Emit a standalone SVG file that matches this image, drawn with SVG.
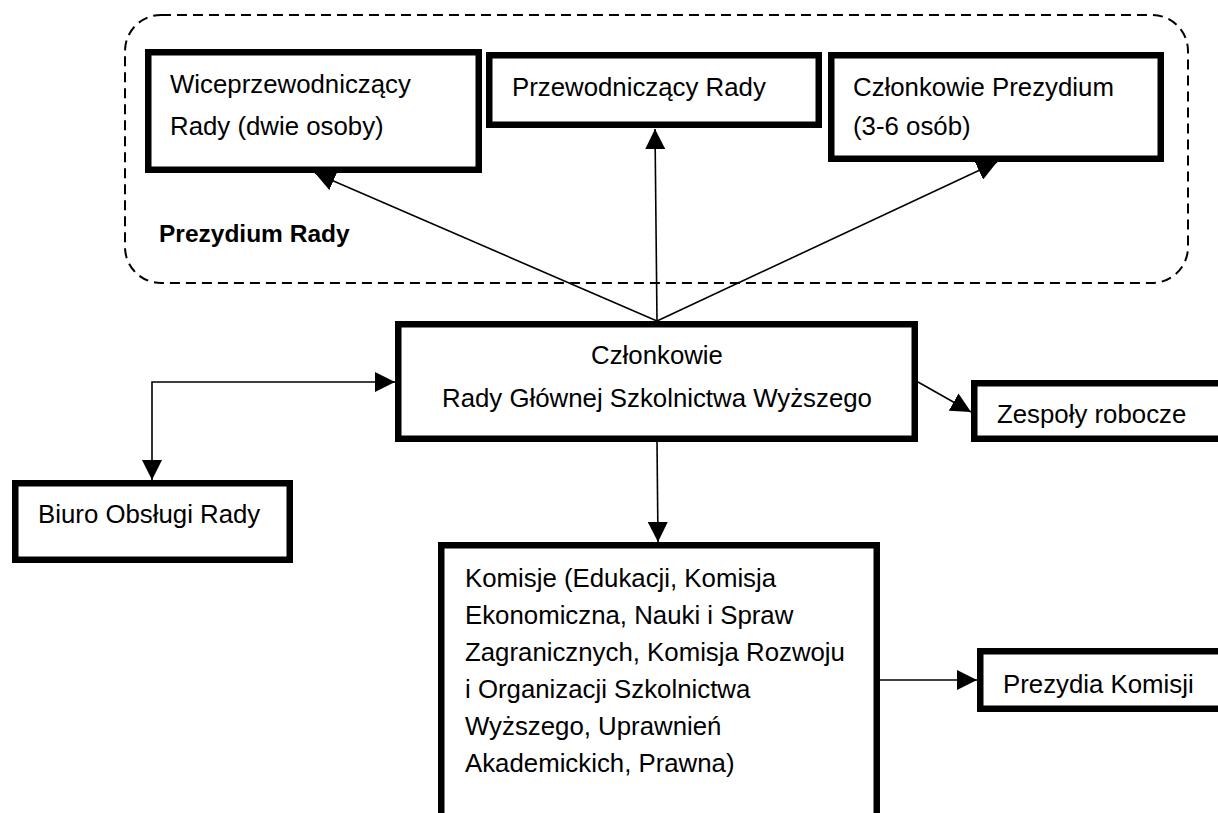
<svg xmlns="http://www.w3.org/2000/svg" width="1218" height="813" viewBox="0 0 1218 813">
<style>
.box{fill:#fff;stroke:#000;stroke-width:6.5}
.t{font-family:"Liberation Sans",Arial,sans-serif;font-size:25.8px;fill:#000}
.b{font-family:"Liberation Sans",Arial,sans-serif;font-size:24.5px;font-weight:bold;fill:#000}
.c{fill:none;stroke:#000;stroke-width:1.6}
.dash{fill:none;stroke:#000;stroke-width:2;stroke-dasharray:10 6}
</style>
<defs>
<marker id="ah" markerUnits="userSpaceOnUse" markerWidth="20" markerHeight="20" viewBox="0 0 20 20" refX="20" refY="10" orient="auto-start-reverse">
<path d="M0,0 L20,10 L0,20 z" fill="#000"/>
</marker>
</defs>
<rect id="prezydium-group" class="dash" x="125" y="15" width="1063" height="268" rx="36" ry="36"/>
<g id="connectors">
<line class="c" x1="657" y1="321" x2="315" y2="173" marker-end="url(#ah)"/>
<line class="c" x1="657" y1="321" x2="655" y2="129" marker-end="url(#ah)"/>
<line class="c" x1="657" y1="321" x2="997" y2="162" marker-end="url(#ah)"/>
<path class="c" d="M152,480 V382 H395" marker-start="url(#ah)" marker-end="url(#ah)"/>
<line class="c" x1="918" y1="382" x2="971" y2="412" marker-end="url(#ah)"/>
<line class="c" x1="657" y1="442" x2="658" y2="542" marker-end="url(#ah)"/>
<line class="c" x1="880" y1="680" x2="977" y2="680" marker-end="url(#ah)"/>
</g>
<g id="wiceprzewodniczacy">
<rect class="box" x="148.25" y="52.25" width="330.5" height="117.5"/>
<text class="t" x="170" y="93">Wiceprzewodniczący</text>
<text class="t" x="170" y="135">Rady (dwie osoby)</text>
</g>
<g id="przewodniczacy">
<rect class="box" x="489.25" y="55.25" width="329.5" height="69.5"/>
<text class="t" x="512" y="96">Przewodniczący Rady</text>
</g>
<g id="czlonkowie-prezydium">
<rect class="box" x="831.25" y="55.25" width="329.5" height="103.5"/>
<text class="t" x="853" y="96">Członkowie Prezydium</text>
<text class="t" x="853" y="135">(3-6 osób)</text>
</g>
<g id="prezydium-label">
<text class="b" x="159" y="242">Prezydium Rady</text>
</g>
<g id="czlonkowie-rady">
<rect class="box" x="398.25" y="324.25" width="516.5" height="114.5"/>
<text class="t" x="657" y="364" text-anchor="middle">Członkowie</text>
<text class="t" x="657" y="407" text-anchor="middle">Rady Głównej Szkolnictwa Wyższego</text>
</g>
<g id="biuro">
<rect class="box" x="15.25" y="483.25" width="274.5" height="76.5"/>
<text class="t" x="38" y="523">Biuro Obsługi Rady</text>
</g>
<g id="zespoly">
<rect class="box" x="974.25" y="383.25" width="300" height="55.5"/>
<text class="t" x="997" y="423">Zespoły robocze</text>
</g>
<g id="komisje">
<rect class="box" x="441.25" y="545.25" width="435.5" height="300"/>
<text class="t" x="465" y="587">Komisje (Edukacji, Komisja</text>
<text class="t" x="465" y="624">Ekonomiczna, Nauki i Spraw</text>
<text class="t" x="465" y="661">Zagranicznych, Komisja Rozwoju</text>
<text class="t" x="465" y="698">i Organizacji Szkolnictwa</text>
<text class="t" x="465" y="735">Wyższego, Uprawnień</text>
<text class="t" x="465" y="772">Akademickich, Prawna)</text>
</g>
<g id="prezydia-komisji">
<rect class="box" x="980.25" y="651.25" width="300" height="57.5"/>
<text class="t" x="1003" y="693">Prezydia Komisji</text>
</g>
</svg>
